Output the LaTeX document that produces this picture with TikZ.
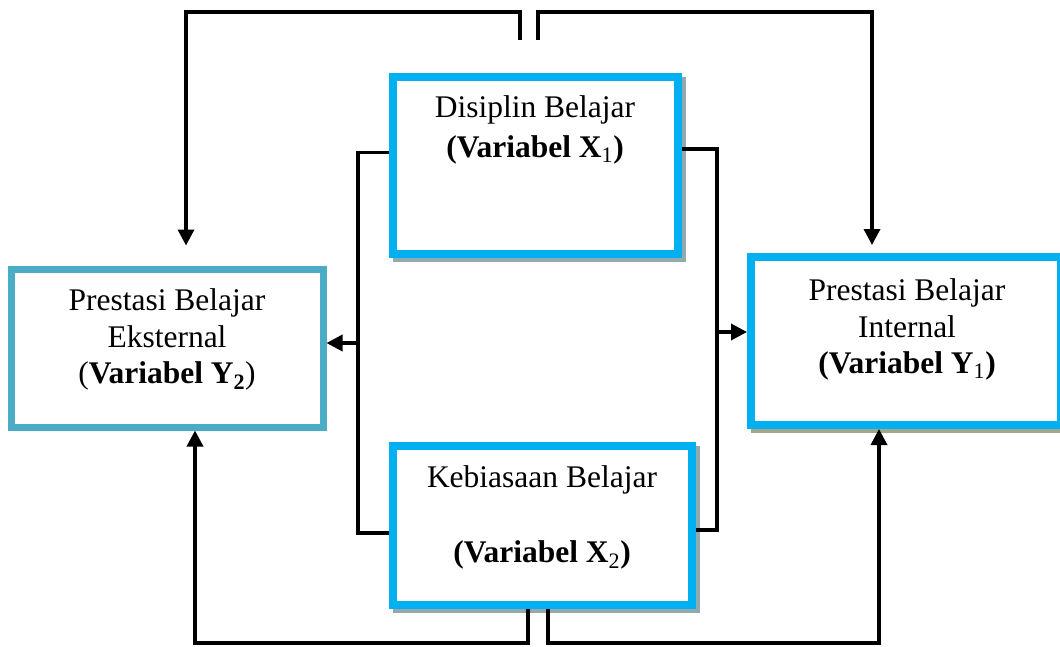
\documentclass[tikz,border=0pt]{standalone}
\usepackage{fontspec}
\setmainfont{Liberation Serif}
\usetikzlibrary{arrows.meta,calc,backgrounds}
\definecolor{cyanb}{HTML}{00B0F0}
\definecolor{tealb}{HTML}{4BACC6}
\definecolor{shadowg}{HTML}{93A9B0}
\definecolor{shadowo}{HTML}{A3A68C}
\begin{document}
\begin{tikzpicture}[x=1pt,y=-1pt,
  box/.style={draw=cyanb, fill=white, line width=8pt, inner sep=0pt},
  lbl/.style={font=\fontsize{31.5}{36}\selectfont, anchor=base, inner sep=0pt},
  conn/.style={line width=3.5pt},
  arr/.style={conn, -{Triangle[length=16pt,width=16pt]}},
]
\useasboundingbox (0,0) rectangle (1060,646);

% boxes
\node[box, minimum width=285pt, minimum height=177pt] (x1) at (535.5,165.5) {};
\node[box, draw=tealb, line width=7pt, minimum width=312pt, minimum height=158pt] (y2) at (167,348) {};
\node[box, minimum width=310pt, minimum height=168pt] (y1) at (906,341) {};
\node[box, minimum width=299pt, minimum height=159pt] (x2) at (542.5,525.5) {};

% shadows
\begin{scope}[on background layer]
  \fill[shadowg] ($(x1.north west)+(4,4)$) rectangle ($(x1.south east)+(4,4)$);
  \fill[shadowg] ($(x2.north west)+(4,4)$) rectangle ($(x2.south east)+(4,4)$);
  \fill[shadowo] ($(y1.north west)+(4,4)$) rectangle ($(y1.south east)+(4,4)$);
\end{scope}

% texts
\node[lbl] (t1a) at (535,117) {Disiplin Belajar};
\node[lbl] (t1b) at (535,157) {\textbf{(Variabel X}\textsubscript{1}\textbf{)}};

\node[lbl] (t2a) at (167,310) {Prestasi Belajar};
\node[lbl] (t2b) at (167,347) {Eksternal};
\node[lbl] (t2c) at (167,383) {(\textbf{Variabel Y\textsubscript{2}})};

\node[lbl] (t3a) at (907,300) {Prestasi Belajar};
\node[lbl] (t3b) at (907,337) {Internal};
\node[lbl] (t3c) at (907,373) {\textbf{(Variabel Y}\textsubscript{1}\textbf{)}};

\node[lbl] (t4a) at (542,487) {Kebiasaan Belajar};
\node[lbl] (t4b) at (542,562) {\textbf{(Variabel X}\textsubscript{2}\textbf{)}};

% brackets
\draw[conn] ($(x1.west)+(0,-13)$) -- ++(-31,0) |- ($(x2.west)+(0,7.5)$);
\draw[conn] ($(x1.east)+(0,-16.5)$) -- ++(35,0) |- ($(x2.east)+(0,4.5)$);
\coordinate (lj) at (358,343);
\coordinate (rj) at (717,332);
\draw[arr] (lj) -- (lj -| y2.east);
\draw[arr] (rj) -- (rj -| y1.west);

% top feedback lines
\coordinate (tl) at (520,40);
\coordinate (tr) at (538,40);
\draw[arr, shorten >=20pt] (tl) -- ++(0,-28) -| ($(y2.north)+(19,0)$);
\draw[arr, shorten >=8pt] (tr) -- ++(0,-28) -| ($(y1.north)+(-34,0)$);

% bottom lines
\draw[arr] ($(x2.south)+(-14.5,0)$) -- ++(0,34) -| ($(y2.south)+(28,0)$);
\draw[arr] ($(x2.south)+(5.5,0)$) -- ++(0,34) -| ($(y1.south)+(-27,0)$);
\end{tikzpicture}
\end{document}
